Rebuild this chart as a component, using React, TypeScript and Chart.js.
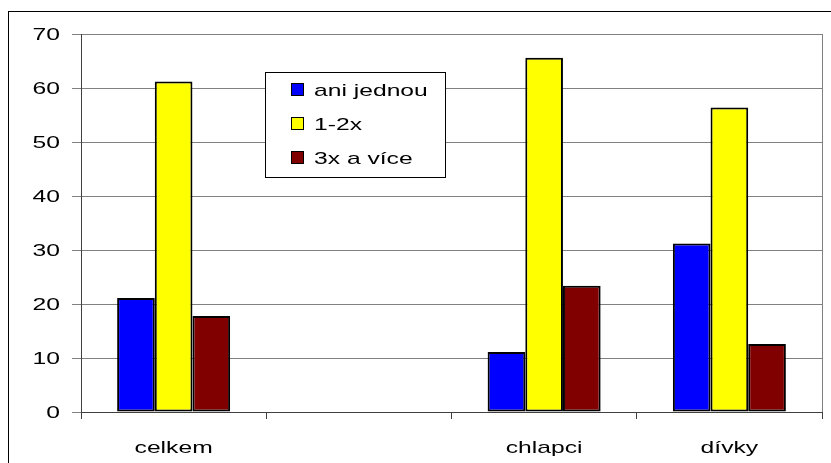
import React, { useEffect, useRef } from "react";
import { Chart, registerables } from "chart.js";

Chart.register(...registerables);

const categories = ["celkem", "", "chlapci", "dívky"];
const seriesNames = ["ani jednou", "1-2x", "3x a více"];
const aniJednou = [21.1, null, 11.1, 31.2];
const jednaDva = [61.2, null, 65.6, 56.4];
const triVice = [17.8, null, 23.4, 12.6];
const colors = ["#0000FF", "#FFFF00", "#800000"];
const yMin = 0;
const yMax = 70;
const yStep = 10;

const FONT = "17px 'Liberation Sans', Arial, sans-serif";
const SX = 1.45;

function stretchedText(ctx: any, text: string, x: number, y: number, align: string) {
  ctx.save();
  ctx.translate(x, y);
  ctx.scale(SX, 1);
  ctx.font = FONT;
  ctx.textAlign = align;
  ctx.textBaseline = "alphabetic";
  ctx.fillStyle = "#000";
  ctx.fillText(text, 0, 0);
  ctx.restore();
}

const framePlugin = {
  id: "frameAndLegend",
  afterDraw(chart: any) {
    const ctx = chart.ctx;
    const a = chart.chartArea;
    ctx.save();
    ctx.strokeStyle = "#000";
    ctx.lineWidth = 1;
    ctx.strokeRect(8.5, 11.5, 1000, 1000);
    ctx.strokeStyle = "#808080";
    ctx.beginPath();
    ctx.moveTo(Math.round(a.right) + 0.5, a.top);
    ctx.lineTo(Math.round(a.right) + 0.5, a.bottom);
    ctx.stroke();

    // axis labels from the library's scales
    const ys = chart.scales.y;
    ys.ticks.forEach((t: any, i: number) => {
      stretchedText(ctx, String(t.label), 60, ys.getPixelForTick(i) + 6, "right");
    });
    const xs = chart.scales.x;
    xs.ticks.forEach((t: any, i: number) => {
      const lbl = xs.getLabelForValue(t.value);
      if (lbl) stretchedText(ctx, String(lbl), xs.getPixelForTick(i), 453, "center");
    });

    // legend
    const lx = 265.5, ly = 72.5, lw = 180, lh = 105;
    ctx.fillStyle = "#fff";
    ctx.fillRect(lx, ly, lw, lh);
    ctx.strokeStyle = "#000";
    ctx.lineWidth = 1;
    ctx.strokeRect(lx, ly, lw, lh);
    seriesNames.forEach((name, i) => {
      const cy = 89 + i * 34;
      ctx.fillStyle = colors[i];
      ctx.fillRect(291, cy - 6, 12, 12);
      ctx.strokeStyle = "#000";
      ctx.lineWidth = 1;
      ctx.strokeRect(291.5, cy - 5.5, 12, 12);
      stretchedText(ctx, name, 314, cy + 6.5, "left");
    });
    ctx.restore();
  },
};

export default function App() {
  const ref = useRef<HTMLCanvasElement>(null);
  useEffect(() => {
    const series = [aniJednou, jednaDva, triVice];
    const chart = new Chart(ref.current!, {
      type: "bar",
      data: {
        labels: categories,
        datasets: series.map((d, i) => ({
          label: seriesNames[i],
          data: d,
          backgroundColor: colors[i],
          borderColor: "#000",
          borderWidth: 2,
          borderSkipped: false,
          categoryPercentage: 0.61,
          barPercentage: 1,
        })),
      },
      options: {
        animation: false,
        responsive: false,
        maintainAspectRatio: false,
        layout: { padding: { left: 0, top: 34, right: 9, bottom: 0 } },
        plugins: { legend: { display: false }, tooltip: { enabled: false } },
        scales: {
          x: {
            grid: {
              display: true,
              drawOnChartArea: false,
              offset: true,
              tickLength: 7,
              color: "#404040",
            },
            border: { color: "#404040", width: 1 },
            ticks: { display: false, autoSkip: false, maxRotation: 0 },
            afterFit: (s: any) => {
              s.height = 51;
            },
          },
          y: {
            min: yMin,
            max: yMax,
            grid: { color: "#808080", tickLength: 9, lineWidth: 1 },
            border: { color: "#404040", width: 1 },
            ticks: { display: false, stepSize: yStep },
            afterFit: (s: any) => {
              s.width = 81;
            },
          },
        },
      },
      plugins: [framePlugin],
    });
    return () => chart.destroy();
  }, []);
  return (
    <div style={{ position: "fixed", left: 0, top: 0, width: 831, height: 463, background: "#fff" }}>
      <canvas ref={ref} width={831} height={463} style={{ display: "block" }} />
    </div>
  );
}
